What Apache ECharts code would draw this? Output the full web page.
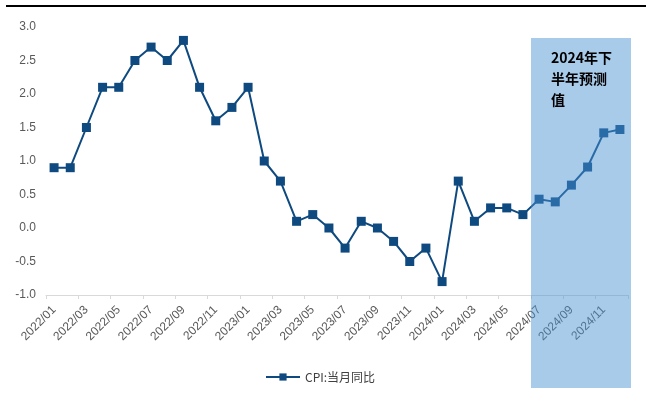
<!DOCTYPE html>
<html><head><meta charset="utf-8">
<script src="https://cdn.jsdelivr.net/npm/echarts@6/dist/echarts.min.js"></script>
<style>html,body{margin:0;padding:0;background:#fff}#c{width:646px;height:394px}</style>
</head><body><div id="c"></div>
<script>
const categories = [
  '2022/01','2022/02','2022/03','2022/04','2022/05','2022/06','2022/07','2022/08','2022/09','2022/10','2022/11','2022/12',
  '2023/01','2023/02','2023/03','2023/04','2023/05','2023/06','2023/07','2023/08','2023/09','2023/10','2023/11','2023/12',
  '2024/01','2024/02','2024/03','2024/04','2024/05','2024/06','2024/07','2024/08','2024/09','2024/10','2024/11','2024/12'
];
const cpiValues = [
  0.9, 0.9, 1.5, 2.1, 2.1, 2.5, 2.7, 2.5, 2.8, 2.1, 1.6, 1.8,
  2.1, 1.0, 0.7, 0.1, 0.2, 0.0, -0.3, 0.1, 0.0, -0.2, -0.5, -0.3,
  -0.8, 0.7, 0.1, 0.3, 0.3, 0.2, 0.43, 0.39, 0.64, 0.91, 1.42, 1.47
];
const seriesName = 'CPI:当月同比';
const forecastStart = '2024/07';
const forecastLabel = '2024年下\n半年预测\n值';
const yMin = -1, yMax = 3, yStep = 0.5;

(function () {
const axisFont = '"Liberation Sans", Arial, sans-serif';
const cjkFont = '"Noto Sans CJK SC", sans-serif';
const lineColor = '#0e4a80';

const chart = echarts.init(document.getElementById('c'), null, {renderer: 'canvas'});
const topRule = {type: 'line', shape: {x1: 6, y1: 6, x2: 646, y2: 6}, style: {stroke: '#000', lineWidth: 2}, z: 50};

chart.setOption({
  animation: false,
  backgroundColor: '#fff',
  grid: {left: 46, right: 18, top: 27, bottom: 99},
  legend: {
    data: [seriesName], left: 260, top: 366, itemWidth: 34, itemHeight: 9,
    textStyle: {fontSize: 12, color: '#404040', fontFamily: cjkFont}
  },
  xAxis: [{
    type: 'category', data: categories, boundaryGap: true,
    axisLine: {show: false}, axisTick: {show: false},
    axisLabel: {interval: 1, rotate: 45, margin: 13, color: '#595959', fontSize: 12, fontFamily: axisFont}
  }, {
    type: 'category', data: categories, boundaryGap: true, position: 'bottom',
    axisLine: {show: true, onZero: true, lineStyle: {color: '#d9d9d9', width: 1}},
    axisTick: {show: true, interval: 1, length: 4, lineStyle: {color: '#d9d9d9'}},
    axisLabel: {show: false}
  }],
  yAxis: {
    type: 'value', min: yMin, max: yMax, interval: yStep,
    axisLine: {show: false}, axisTick: {show: false}, splitLine: {show: false},
    axisLabel: {margin: 10, color: '#595959', fontSize: 12, fontFamily: axisFont, formatter: v => v.toFixed(1)}
  },
  series: [{
    name: seriesName, type: 'line', data: cpiValues, xAxisIndex: 0,
    symbol: 'rect', symbolSize: 9,
    lineStyle: {color: lineColor, width: 2}, itemStyle: {color: lineColor}
  }],
  graphic: [topRule]
});

const idx = categories.indexOf(forecastStart);
const p0 = chart.convertToPixel({xAxisIndex: 0}, 0);
const p1 = chart.convertToPixel({xAxisIndex: 0}, 1);
const band = p1 - p0;
const shadeLeft = chart.convertToPixel({xAxisIndex: 0}, idx) - band / 2;
const shadeRight = chart.convertToPixel({xAxisIndex: 0}, categories.length - 1) + band / 2 + 3;
const shadeTop = 38, shadeBottom = 388;

chart.setOption({
  graphic: [
    topRule,
    {type: 'rect', shape: {x: shadeLeft, y: shadeTop, width: shadeRight - shadeLeft, height: shadeBottom - shadeTop},
     style: {fill: 'rgba(73,145,210,0.47)'}, z: 100},
    {type: 'text', x: shadeLeft + 20, y: 47, z: 101,
     style: {text: forecastLabel, fill: '#000', font: 'bold 14px ' + cjkFont, lineHeight: 21}}
  ]
});
})();
</script>
</body></html>
